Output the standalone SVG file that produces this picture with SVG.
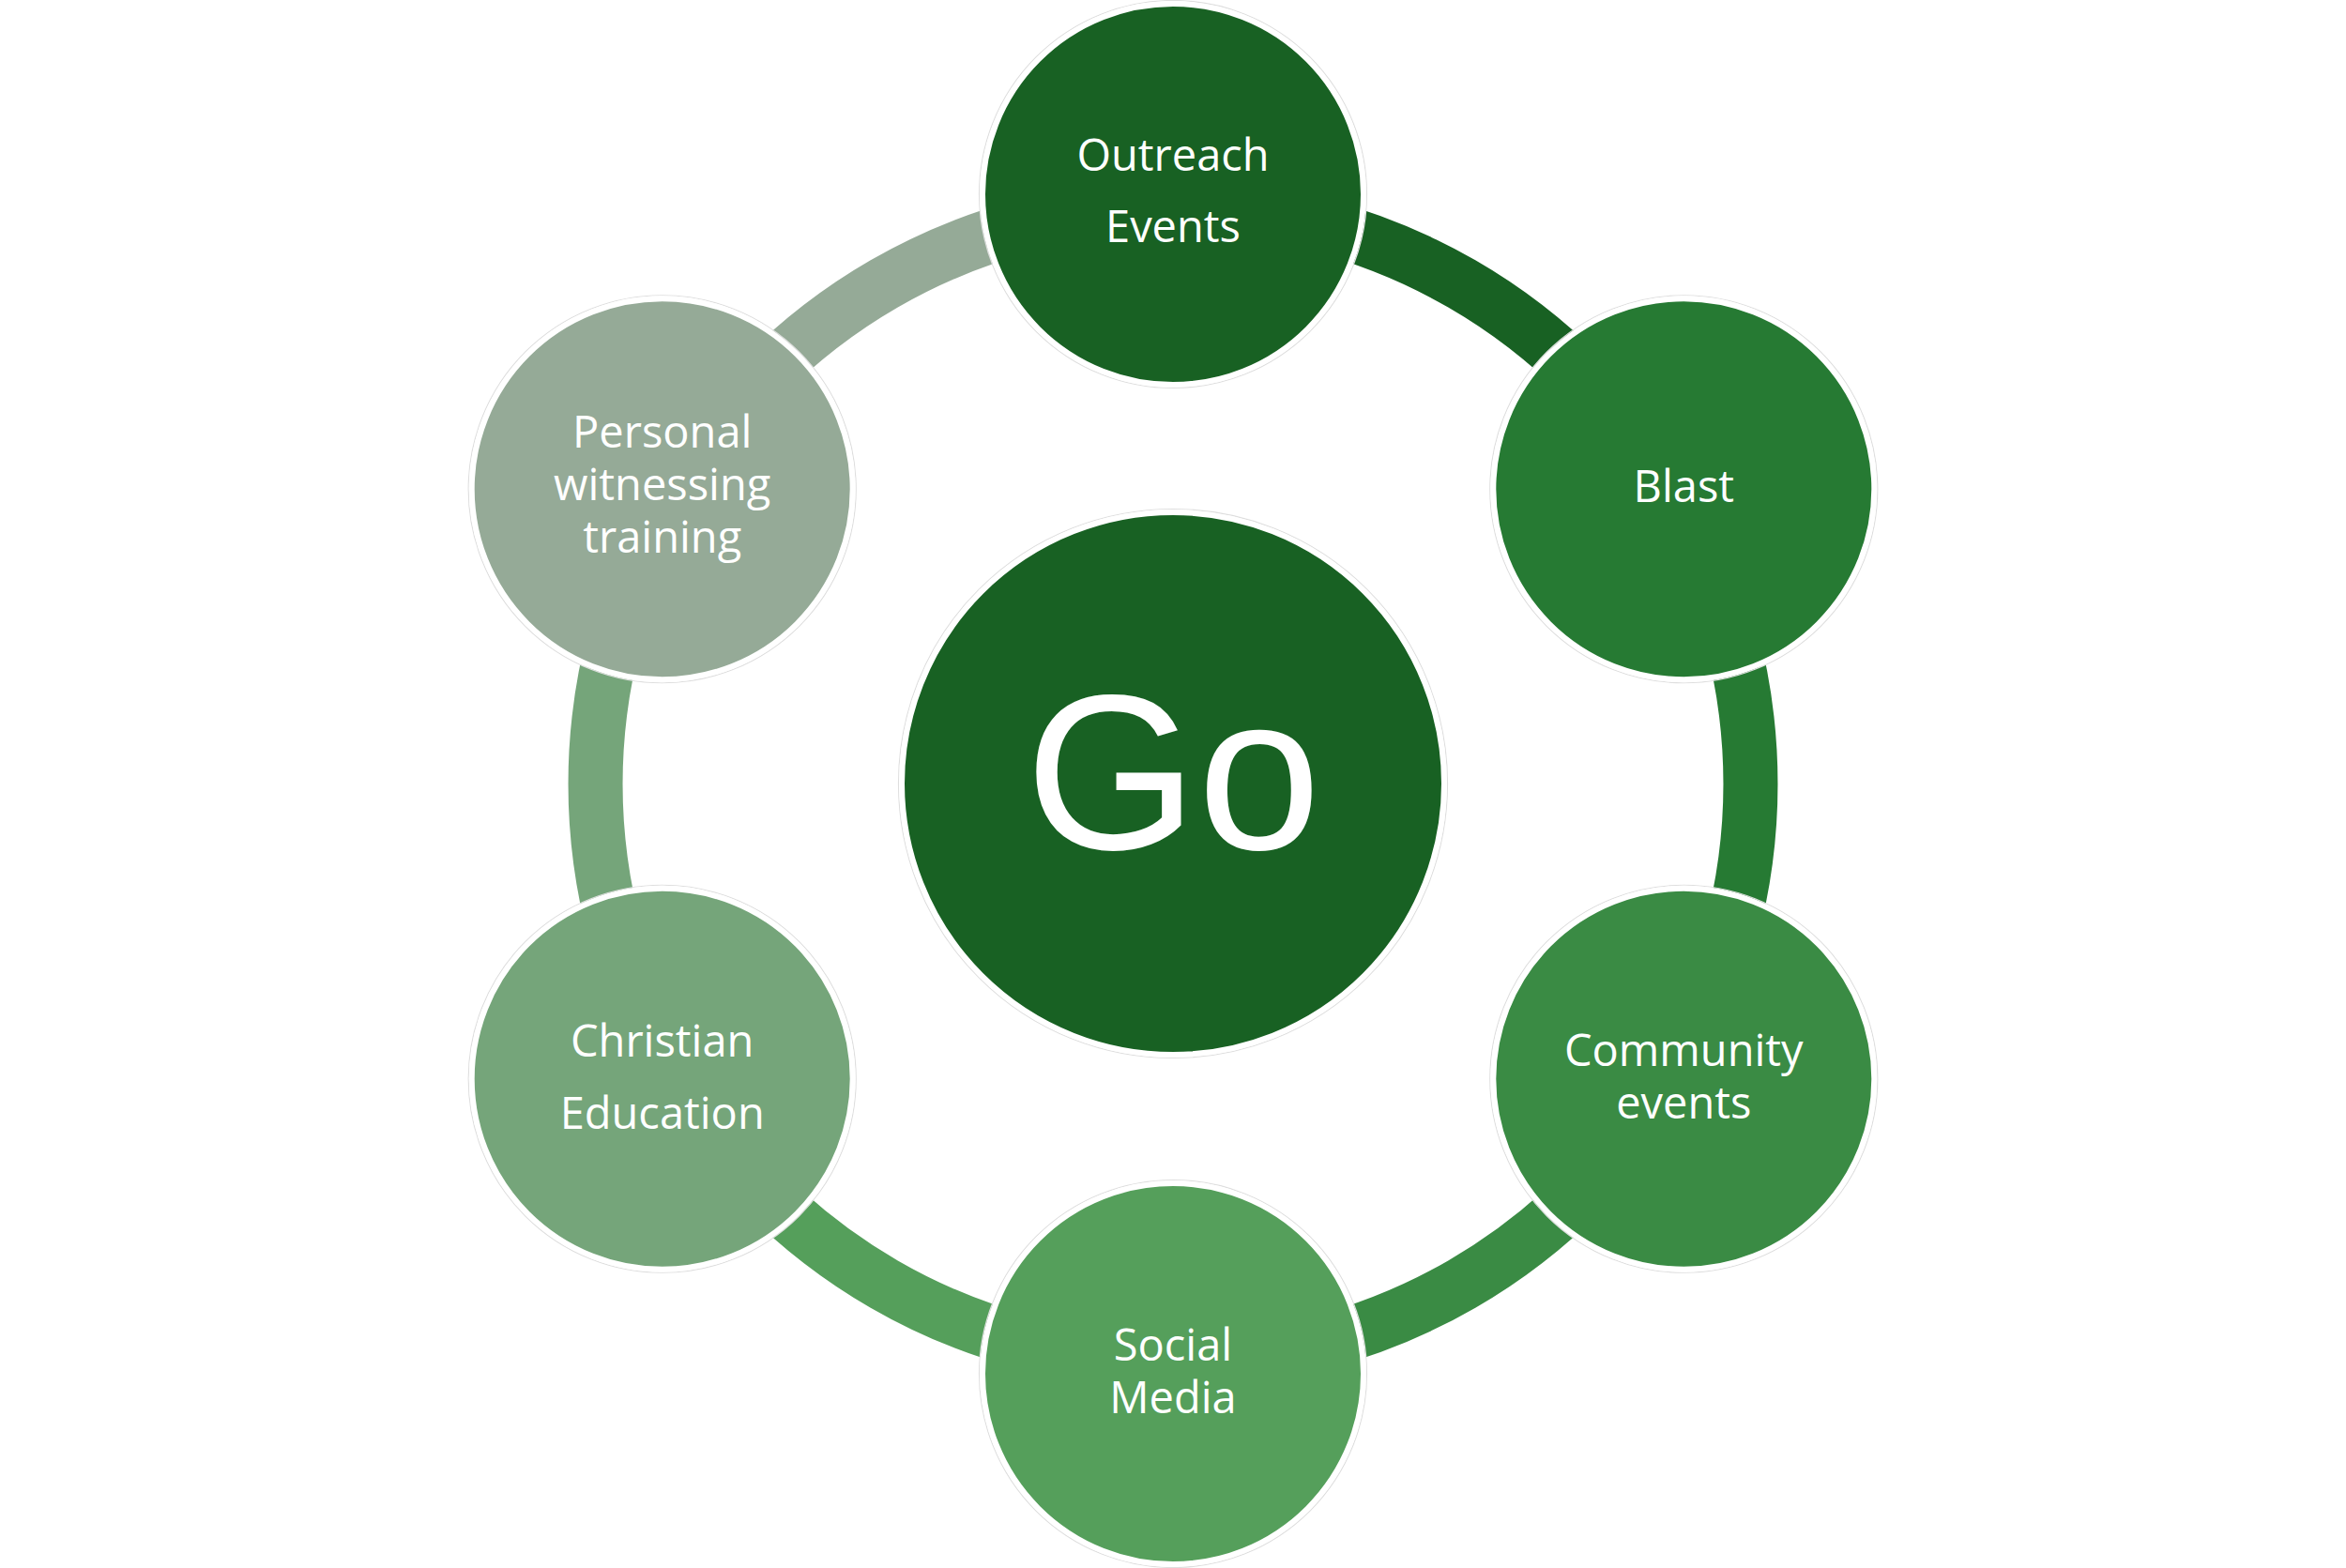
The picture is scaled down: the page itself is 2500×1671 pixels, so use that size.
<svg xmlns="http://www.w3.org/2000/svg" width="2500" height="1671" viewBox="0 0 2500 1671">
<style>
.arc{fill:none;stroke-width:58;stroke-linecap:butt}
.node{stroke:#ffffff;stroke-width:6}
.halo{fill:none;stroke:#dedede;stroke-width:1.2}
.lbl{font-family:"Open Sans","Noto Sans","DejaVu Sans",sans-serif;font-size:47px;fill:#ffffff;text-anchor:middle}
.go{font-family:"Liberation Sans",Arial,sans-serif;font-size:236px;fill:#ffffff;text-anchor:middle}
</style>
<rect width="2500" height="1671" fill="#ffffff"/>
<g id="connectors">
<path class="arc" stroke="#186123" d="M1250 220 A615.5 615.5 0 0 1 1783 527.75"/>
<path class="arc" stroke="#267a33" d="M1783 527.75 A615.5 615.5 0 0 1 1783 1143.25"/>
<path class="arc" stroke="#3a8b44" d="M1783 1143.25 A615.5 615.5 0 0 1 1250 1451"/>
<path class="arc" stroke="#559f5b" d="M1250 1451 A615.5 615.5 0 0 1 717 1143.25"/>
<path class="arc" stroke="#75a57a" d="M717 1143.25 A615.5 615.5 0 0 1 717 527.75"/>
<path class="arc" stroke="#95aa97" d="M717 527.75 A615.5 615.5 0 0 1 1250 220"/>
</g>
<g id="center">
<circle class="halo" cx="1250" cy="835" r="292.5"/>
<circle class="node" cx="1250" cy="835" r="289" fill="#186123"/>
<text class="go" x="1250" y="905">Go</text>
</g>
<g id="outreach">
<circle class="halo" cx="1250" cy="207" r="206.5"/>
<circle class="node" cx="1250" cy="207" r="203" fill="#186123"/>
<text class="lbl" x="1250" y="182">Outreach</text>
<text class="lbl" x="1250" y="258">Events</text>
</g>
<g id="blast">
<circle class="halo" cx="1794.3" cy="521.25" r="206.5"/>
<circle class="node" cx="1794.3" cy="521.25" r="203" fill="#267a33"/>
<text class="lbl" x="1794.3" y="535">Blast</text>
</g>
<g id="community">
<circle class="halo" cx="1794.3" cy="1149.75" r="206.5"/>
<circle class="node" cx="1794.3" cy="1149.75" r="203" fill="#3a8b44"/>
<text class="lbl" x="1794.3" y="1136">Community</text>
<text class="lbl" x="1794.3" y="1192">events</text>
</g>
<g id="social">
<circle class="halo" cx="1250" cy="1464" r="206.5"/>
<circle class="node" cx="1250" cy="1464" r="203" fill="#559f5b"/>
<text class="lbl" x="1250" y="1450">Social</text>
<text class="lbl" x="1250" y="1506">Media</text>
</g>
<g id="christian">
<circle class="halo" cx="705.7" cy="1149.75" r="206.5"/>
<circle class="node" cx="705.7" cy="1149.75" r="203" fill="#75a57a"/>
<text class="lbl" x="705.7" y="1126">Christian</text>
<text class="lbl" x="705.7" y="1203">Education</text>
</g>
<g id="personal">
<circle class="halo" cx="705.7" cy="521.25" r="206.5"/>
<circle class="node" cx="705.7" cy="521.25" r="203" fill="#95aa97"/>
<text class="lbl" x="705.7" y="477">Personal</text>
<text class="lbl" x="705.7" y="533">witnessing</text>
<text class="lbl" x="705.7" y="589">training</text>
</g>
</svg>
